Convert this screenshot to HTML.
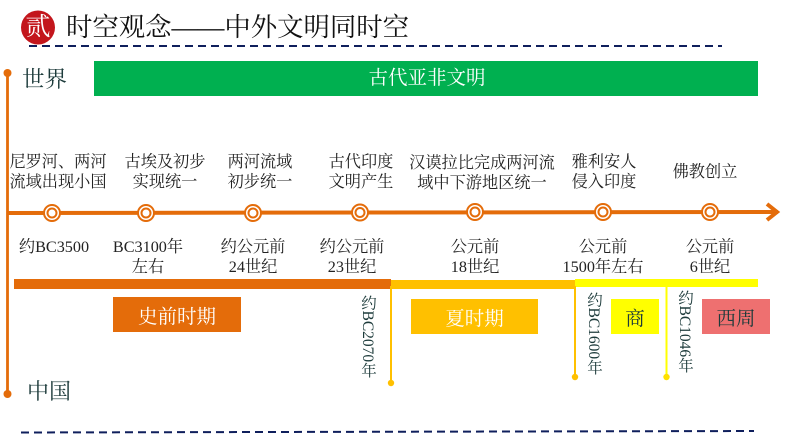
<!DOCTYPE html>
<html><head><meta charset="utf-8">
<style>
html,body{margin:0;padding:0;background:#fff}
#p{position:relative;width:794px;height:447px;overflow:hidden;background:#fff;font-family:"Liberation Serif","Noto Serif CJK SC",serif;color:#222}
#p svg{position:absolute;left:0;top:0}
.t{position:absolute;white-space:nowrap;text-align:center;line-height:20px;font-size:16.2px}
.c{transform:translateX(-50%)}
.v{position:absolute;writing-mode:vertical-rl;white-space:nowrap;font-size:15.5px;line-height:18px;color:#1d3b3b}
.b{position:absolute;display:flex;align-items:center;justify-content:center;font-size:19.5px;box-sizing:border-box;color:#fff}
</style></head><body><div id="p">
<svg width="794" height="447">
<circle cx="38" cy="27.500" r="17" fill="#c3161c"/>
<line x1="29" y1="46" x2="722" y2="46" stroke="#0f1f5c" stroke-width="2" stroke-dasharray="8 5"/>
<line x1="21" y1="432.500" x2="754" y2="431" stroke="#0f1f5c" stroke-width="2" stroke-dasharray="8 5"/>
<line x1="7.500" y1="73" x2="7.500" y2="394" stroke="#e46c0a" stroke-width="2.800"/>
<circle cx="7.500" cy="73" r="4" fill="#e46c0a"/><circle cx="7.500" cy="394" r="4" fill="#e46c0a"/>
<rect x="94" y="61" width="664" height="35" fill="#00b050"/>
<line x1="7" y1="213" x2="778" y2="212" stroke="#e46c0a" stroke-width="4"/>
<polyline points="767,204 777,212 767,220" fill="none" stroke="#e46c0a" stroke-width="4"/>
<g fill="#fff" stroke="#e46c0a" stroke-width="2">
<circle cx="52" cy="213" r="8"/><circle cx="146" cy="213" r="8"/><circle cx="253" cy="213" r="8"/><circle cx="360" cy="212.500" r="8"/><circle cx="475" cy="212" r="8"/><circle cx="603" cy="212" r="8"/><circle cx="710" cy="212" r="8"/>
<circle cx="52" cy="213" r="4.500"/><circle cx="146" cy="213" r="4.500"/><circle cx="253" cy="213" r="4.500"/><circle cx="360" cy="212.500" r="4.500"/><circle cx="475" cy="212" r="4.500"/><circle cx="603" cy="212" r="4.500"/><circle cx="710" cy="212" r="4.500"/>
</g>
<rect x="14" y="279" width="377" height="10" fill="#e46c0a"/>
<rect x="391" y="280" width="184" height="9" fill="#ffc000"/>
<rect x="575" y="279" width="183" height="8" fill="#ffff00"/>
<line x1="391" y1="286" x2="391" y2="383" stroke="#ffc000" stroke-width="2"/><circle cx="391" cy="383" r="3.200" fill="#ffc000"/>
<line x1="575" y1="286" x2="575" y2="377" stroke="#ffc000" stroke-width="2"/><circle cx="575" cy="377" r="3.200" fill="#ffc000"/>
<line x1="666.500" y1="286" x2="666.500" y2="377" stroke="#ffff00" stroke-width="2"/><circle cx="666.500" cy="377" r="3.200" fill="#ffe000"/>
</svg>
<div class="t c" style="left:38px;top:15px;font-size:25px;line-height:26px;color:#fff">贰</div>
<div class="t" style="left:66px;top:12px;font-size:26.400px;line-height:30px;color:#111;text-align:left">时空观念——中外文明同时空</div>
<div class="t" style="left:22px;top:67px;font-size:22.500px;line-height:26px;color:#1d3b3b">世界</div>
<div class="t" style="left:27px;top:379px;font-size:22px;line-height:26px;color:#1d3b3b">中国</div>
<div class="t c" style="left:427px;top:68px;font-size:19.500px;line-height:22px;color:#fff">古代亚非文明</div>

<div class="t c" style="left:58px;top:152px">尼罗河、两河<br>流域出现小国</div>
<div class="t c" style="left:165px;top:152px">古埃及初步<br>实现统一</div>
<div class="t c" style="left:260px;top:152px">两河流域<br>初步统一</div>
<div class="t c" style="left:361px;top:152px">古代印度<br>文明产生</div>
<div class="t c" style="left:482px;top:153px">汉谟拉比完成两河流<br>域中下游地区统一</div>
<div class="t c" style="left:604px;top:152px">雅利安人<br>侵入印度</div>
<div class="t c" style="left:705px;top:162px">佛教创立</div>

<div class="t c" style="left:54px;top:237px">约BC3500</div>
<div class="t c" style="left:148px;top:237px">BC3100年<br>左右</div>
<div class="t c" style="left:253px;top:237px">约公元前<br>24世纪</div>
<div class="t c" style="left:352px;top:237px">约公元前<br>23世纪</div>
<div class="t c" style="left:475px;top:237px">公元前<br>18世纪</div>
<div class="t c" style="left:603px;top:237px">公元前<br>1500年左右</div>
<div class="t c" style="left:710px;top:237px">公元前<br>6世纪</div>

<div class="b" style="left:113px;top:297px;width:128px;height:35px;background:#e46c0a">史前时期</div>
<div class="b" style="left:411px;top:299px;width:127px;height:35px;background:#ffc000">夏时期</div>
<div class="b" style="left:611px;top:299px;width:48px;height:35px;background:#ffff00;color:#1d3b3b">商</div>
<div class="b" style="left:702px;top:299px;width:68px;height:35px;background:#ee7070;color:#1d3b3b">西周</div>

<div class="v" style="left:358px;top:295px">约BC2070年</div>
<div class="v" style="left:584px;top:292px">约BC1600年</div>
<div class="v" style="left:675px;top:290px">约BC1046年</div>
</div></body></html>
